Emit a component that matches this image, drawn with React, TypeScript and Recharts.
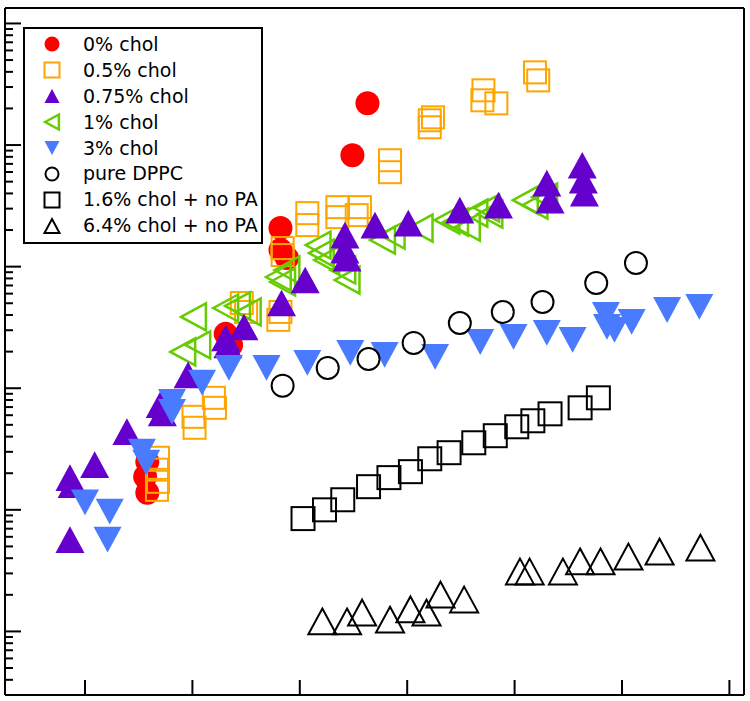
import { Legend, Scatter, ScatterChart, XAxis, YAxis } from "recharts";

type Pt = [number, number];

// values (x linear, y log)
const chol0: Pt[] = [
  [15.8, 24.9], [15.6, 18.7], [15.8, 13.8], [23.1, 280], [23.6, 227],
  [28.2, 2075], [28.2, 1368], [28.8, 1177], [34.9, 8245], [36.3, 22030],
];
const chol05: Pt[] = [
  [16.8, 26.8], [16.7, 21.4], [16.8, 17.0], [16.7, 14.6], [20.1, 58.2], [20.2, 47.3],
  [22.0, 83.4], [22.1, 69.0], [24.6, 502], [25.0, 424], [28.2, 424], [28.0, 365],
  [28.4, 1422], [28.4, 1245], [30.7, 2754], [30.7, 2197], [33.5, 3085], [33.5, 2554],
  [35.6, 3085], [35.3, 2654], [38.4, 7500], [38.4, 5980], [42.1, 15990], [42.1, 14000],
  [42.4, 16900], [47.1, 28180], [47.0, 23330], [48.3, 22030], [51.9, 39600], [52.2, 34040],
];
const chol075: Pt[] = [
  [8.6, 18.4], [8.8, 16.1], [10.9, 23.5], [8.6, 5.69], [13.9, 43.9], [17.0, 73.1],
  [17.2, 62.8], [19.6, 129], [23.1, 259], [23.3, 227], [24.8, 319], [28.3, 502],
  [30.5, 776], [34.2, 1817], [34.2, 1368], [34.4, 1177], [37.0, 2197], [40.1, 2280],
  [44.9, 2915], [48.5, 3205], [53.0, 4855], [53.3, 3522], [56.3, 6825], [56.4, 5140],
  [56.5, 4020],
];
const chol1: Pt[] = [
  [19.1, 199], [20.5, 227], [20.1, 386], [23.1, 457], [24.2, 475], [25.2, 424],
  [28.0, 822], [28.8, 938], [28.4, 748], [31.7, 1504], [32.0, 1294], [32.5, 1133],
  [34.0, 938], [34.4, 776], [37.7, 1653], [38.6, 1817], [41.2, 2075], [43.7, 2414],
  [44.5, 2323], [45.6, 2115], [46.3, 2754], [47.4, 3030], [47.7, 2704], [51.0, 3522],
  [51.9, 3205], [52.8, 3727],
];
const chol3: Pt[] = [
  [10.0, 11.5], [12.3, 9.67], [12.1, 5.69], [15.3, 30.1], [15.7, 24.4], [18.1, 77.3],
  [18.1, 64.0], [20.9, 111], [23.4, 147], [26.9, 147], [30.7, 162], [34.7, 195],
  [37.9, 188], [42.6, 181], [46.8, 240], [49.9, 264], [53.0, 285], [55.4, 250],
  [58.5, 401], [58.6, 319], [59.3, 302], [60.9, 351], [64.2, 440], [67.2, 466],
];
const dppc: Pt[] = [
  [28.4, 105], [32.6, 147], [36.4, 174], [40.6, 236], [44.9, 344],
  [48.9, 424], [52.6, 512], [57.6, 733], [61.3, 1071],
];
const chol16NoPA: Pt[] = [
  [30.3, 8.47], [32.3, 10.0], [34.0, 12.1], [36.4, 15.5], [38.3, 18.4], [40.3, 20.6],
  [42.1, 26.3], [43.9, 29.5], [46.2, 35.6], [48.2, 40.7], [50.2, 48.2], [51.7, 54.0],
  [53.3, 61.6], [56.1, 69.0], [57.8, 83.4],
];
const chol64NoPA: Pt[] = [
  [32.1, 1.21], [34.4, 1.21], [35.8, 1.43], [38.4, 1.25], [40.3, 1.52], [41.8, 1.43],
  [43.1, 2.01], [45.3, 1.83], [50.5, 3.11], [51.4, 3.11], [54.5, 3.11], [56.1, 3.76],
  [58.0, 3.76], [60.6, 4.13], [63.5, 4.54], [67.3, 4.89],
];

const xTicks = [10, 20, 30, 40, 50, 60, 70];
const yDecades = [0.1, 1, 10, 100, 1000, 10000, 100000];
const yMinorSteps = [2, 3, 4, 5, 6, 7, 8, 9];

const Y_DOMAIN: [number, number] = [0.3, 134000];
const yMajor = yDecades.filter((d) => d >= Y_DOMAIN[0]);
const yMinor = yDecades
  .flatMap((d) => yMinorSteps.map((m) => +(m * d).toPrecision(3)))
  .filter((v) => v >= Y_DOMAIN[0] && v <= Y_DOMAIN[1]);
const yTicks = [...yMajor, ...yMinor].sort((a, b) => a - b);

const W = 750;
const H = 701;
// axes are 1px thick boxes, so the plot is 5..744 x 8..695
const M = { top: 7, right: 5, bottom: 5, left: 4 };
const PLOT_LEFT = M.left + 1;
const PLOT_BOTTOM = H - M.bottom - 1;

type Kind = "disc" | "square" | "up" | "left" | "down" | "ring" | "openUp";

const SERIES: { name: string; data: Pt[]; kind: Kind; color: string; size: number }[] = [
  { name: "0% chol", data: chol0, kind: "disc", color: "#FF0000", size: 24 },
  { name: "0.5% chol", data: chol05, kind: "square", color: "#FFA500", size: 22 },
  { name: "0.75% chol", data: chol075, kind: "up", color: "#6600CC", size: 29 },
  { name: "1% chol", data: chol1, kind: "left", color: "#66CC00", size: 27 },
  { name: "3% chol", data: chol3, kind: "down", color: "#4A7BFF", size: 28 },
  { name: "pure DPPC", data: dppc, kind: "ring", color: "#000000", size: 24 },
  { name: "1.6% chol + no PA", data: chol16NoPA, kind: "square", color: "#000000", size: 23 },
  { name: "6.4% chol + no PA", data: chol64NoPA, kind: "openUp", color: "#000000", size: 28 },
];
const DRAW_ORDER = [0, 1, 3, 2, 4, 5, 6, 7];

const Marker = ({ kind, color, cx, cy, s }: { kind: Kind; color: string; cx: number; cy: number; s: number }) => {
  const h = s / 2;
  const t = s * 0.46;
  const open = { fill: "none", stroke: color, strokeWidth: 2 };
  switch (kind) {
    case "disc":
      return <circle cx={cx} cy={cy} r={h} fill={color} />;
    case "ring":
      return <circle cx={cx} cy={cy} r={h - 1} {...open} />;
    case "square":
      return <rect x={cx - h} y={cy - h} width={s} height={s} {...open} />;
    case "up":
      return <polygon points={`${cx},${cy - t} ${cx + h},${cy + t} ${cx - h},${cy + t}`} fill={color} />;
    case "openUp":
      return <polygon points={`${cx},${cy - t} ${cx + h},${cy + t} ${cx - h},${cy + t}`} {...open} />;
    case "down":
      return <polygon points={`${cx},${cy + t} ${cx + h},${cy - t} ${cx - h},${cy - t}`} fill={color} />;
    case "left":
      return <polygon points={`${cx - t},${cy} ${cx + t},${cy - h} ${cx + t},${cy + h}`} {...open} strokeWidth={2.5} />;
  }
};

const YTick = (props: any) => {
  const { y, payload } = props;
  const len = yMajor.includes(payload.value) ? 16 : 8;
  return <line x1={PLOT_LEFT} x2={PLOT_LEFT + len} y1={y} y2={y} stroke="#000" strokeWidth={2} />;
};

const XTick = (props: any) => {
  const { x } = props;
  return <line x1={x} x2={x} y1={PLOT_BOTTOM} y2={PLOT_BOTTOM - 15} stroke="#000" strokeWidth={2} />;
};

const renderLegend = () => (
  <div
    style={{
      boxSizing: "border-box",
      width: 240,
      height: 217,
      border: "2px solid #000",
      background: "#fff",
      padding: "2.5px 0 3.5px 15px",
      fontFamily: "'DejaVu Sans'",
      fontSize: 19,
      color: "#000",
    }}
  >
    {SERIES.map((s) => (
      <div key={s.name} style={{ display: "flex", alignItems: "center", height: 25.9 }}>
        <svg width={24} height={24} style={{ flex: "none" }}>
          <Marker kind={s.kind} color={s.color} cx={12} cy={12} s={15} />
        </svg>
        <span style={{ marginLeft: 19, lineHeight: 1, whiteSpace: "nowrap" }}>{s.name}</span>
      </div>
    ))}
  </div>
);

const axisLine = { stroke: "#000", strokeWidth: 2 };

export default function App() {
  return (
    <div style={{ position: "absolute", left: 0, top: 0, background: "#fff" }}>
      <ScatterChart width={W} height={H} margin={M}>
        <XAxis
          type="number"
          dataKey="x"
          domain={[2.55, 71.36]}
          ticks={xTicks}
          interval={0}
          tick={XTick}
          tickLine={false}
          axisLine={axisLine}
          height={1}
          allowDataOverflow
        />
        <YAxis
          type="number"
          dataKey="y"
          scale="log"
          domain={Y_DOMAIN}
          ticks={yTicks}
          interval={0}
          tick={YTick}
          tickLine={false}
          axisLine={axisLine}
          width={1}
          allowDataOverflow
        />
        <XAxis xAxisId="top" orientation="top" type="number" domain={[0, 1]} height={1} tick={false} tickLine={false} axisLine={axisLine} />
        <YAxis yAxisId="right" orientation="right" type="number" domain={[0, 1]} width={1} tick={false} tickLine={false} axisLine={axisLine} />
        <Legend
          layout="horizontal"
          verticalAlign="middle"
          align="center"
          wrapperStyle={{ top: 27, left: 23, width: "auto", height: "auto" }}
          content={renderLegend}
        />
        {DRAW_ORDER.map((i) => {
          const s = SERIES[i];
          return (
            <Scatter
              key={s.name}
              name={s.name}
              data={s.data.map(([x, y]) => ({ x, y }))}
              fill={s.color}
              isAnimationActive={false}
              shape={(p: any) => <Marker kind={s.kind} color={s.color} cx={p.cx} cy={p.cy} s={s.size} />}
            />
          );
        })}
      </ScatterChart>
    </div>
  );
}
